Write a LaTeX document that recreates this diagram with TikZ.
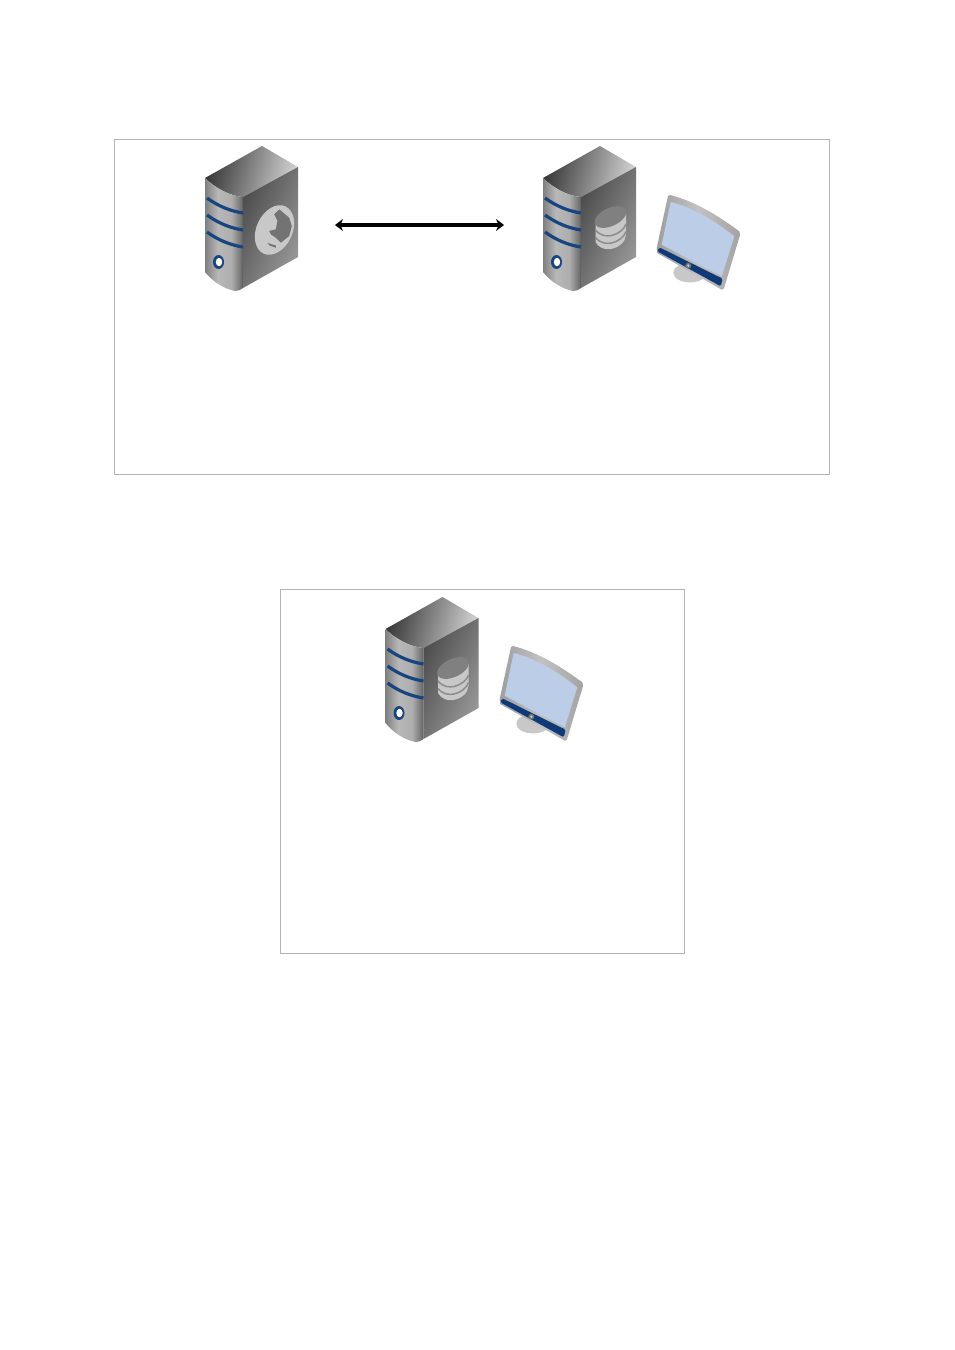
\documentclass[tikz,border=0pt]{standalone}
\usetikzlibrary{arrows.meta}
\definecolor{stripeblue}{HTML}{174580}
\definecolor{screenblue}{HTML}{BCCDE8}
\definecolor{barblue}{HTML}{0F3A78}
\definecolor{framegray}{HTML}{B4B4B4}
\definecolor{markgray}{HTML}{C8C8C8}
\pgfdeclarehorizontalshading{serverfront}{100bp}{color(0bp)=(black!50);color(25bp)=(black!50);color(42bp)=(black!28);color(60bp)=(black!32);color(72bp)=(black!55);color(75bp)=(black!65);color(100bp)=(black!65)}
\pgfdeclarehorizontalshading{monitorframe}{100bp}{color(0bp)=(black!38);color(25bp)=(black!38);color(50bp)=(black!24);color(75bp)=(black!36);color(100bp)=(black!36)}
\tikzset{
  boxframe/.style={draw=framegray,line width=0.7pt,anchor=north west,inner sep=0pt},
  stripe/.style={draw=stripeblue,line width=3.2pt},
  % apex of the cabinet is the origin
  servercase/.pic={
    \shade[left color=black!78,right color=black!18,shading angle=75] (0,0) -- (36,21) -- (-19,51) .. controls (-32,50) and (-47,42) .. (-57,32) -- cycle;
    \shade[shading=serverfront] (-57,32) .. controls (-47,42) and (-32,50) .. (-19,51) -- (-19,142) .. controls (-21,144) and (-24,145) .. (-27,145) .. controls (-38,143) and (-50,135) .. (-57,126) -- cycle;
    \shade[left color=black!70,right color=black!40,shading angle=65] (-19,51) -- (36,21) -- (36,111) -- (-19,142) -- cycle;
    \foreach \dy in {0,17,34}
      \draw[stripe] (-55,52+\dy) .. controls (-44,60+\dy) and (-32,65+\dy) .. (-19,67+\dy);
    \fill[stripeblue] (-43.5,116) ellipse (5.5 and 7);
    \fill[white] (-43,116) ellipse (3.2 and 4.2);
  },
  globemark/.pic={
    \fill[markgray,rotate=-25] (0,0) ellipse (18 and 26);
    \fill[black!55] (4.7,-20.7) -- (14.7,-12.3) -- (17.3,-4) -- (14.7,6) -- (6.3,12.7) -- (1.3,7.7) -- (-3.7,4.3) -- (-5.3,1) -- (1.3,-0.7) -- (3,-9) -- (-0.3,-15.7) -- cycle;
    \fill[black!55] (-7,13) -- (1.3,15.5) -- (1.3,17.7) -- (-5,15.5) -- cycle;
  },
  diskmark/.pic={
    \fill[markgray] (-15,7) -- (-15,25) .. controls (-12,31) and (-5,33) .. (0,32) .. controls (8,31) and (15,25) .. (15.5,18) -- (15.5,-4) -- cycle;
    \foreach \dy in {0,7.5}
      \draw[black!45,line width=1.5pt] (-15,13+\dy) .. controls (-10,19+\dy) and (-4,19.5+\dy) .. (1,18.5+\dy) .. controls (8,17+\dy) and (14,12+\dy) .. (15.5,7+\dy);
    \fill[black!50,rotate=25] (0,0) ellipse (17 and 9);
  },
  monitorset/.pic={
    \fill[markgray] (20,77.7) ellipse (16.7 and 9.7);
    \shade[shading=monitorframe] (0,0) .. controls (25,6) and (50,22) .. (69.5,36.5) -- (70,40) -- (55,90) .. controls (54,94) and (53,95) .. (51.7,94.7) -- (-12.7,58) -- (-13.3,53) -- (-2,1) -- cycle;
    \fill[screenblue] (0.7,7) .. controls (22,12) and (45,26) .. (64.3,41.3) -- (51.7,81.3) -- (-8.3,49.7) -- cycle;
    \fill[barblue,rounded corners=1.5pt] (-10.7,52.3) -- (52.7,83.7) -- (50.7,91.3) -- (-12.7,56.3) -- cycle;
    \fill[black!55] (18.3,70.7) circle (3);
    \fill[markgray] (18.3,70.7) circle (1.3);
  },
  arrowlink/.style={{Stealth[length=8pt,width=12pt]}-{Stealth[length=8pt,width=12pt]},line width=3.4pt},
}
\begin{document}
\begin{tikzpicture}[x=1pt,y=-1pt]
\useasboundingbox (0,0) rectangle (955,1350);
\node[boxframe,minimum width=715pt,minimum height=335pt] (topframe) at (114,139) {};
\node[boxframe,minimum width=404pt,minimum height=364pt] (lowframe) at (280,589) {};
\pic (webserver) at (262,146) {servercase};
\pic (webglobe) at (274.5,230) {globemark};
\pic (dbserver) at (600,146) {servercase};
\pic (dbdisk) at (610.5,217) {diskmark};
\pic (dbmonitor) at (670,195) {monitorset};
\pic (soloserver) at (442.5,597) {servercase};
\pic (solodisk) at (453,668) {diskmark};
\pic (solomonitor) at (513,646) {monitorset};
\coordinate (webport) at (335,225);
\coordinate (dbport) at (504,225);
\draw[arrowlink] (webport) -- (dbport);
\end{tikzpicture}
\end{document}
